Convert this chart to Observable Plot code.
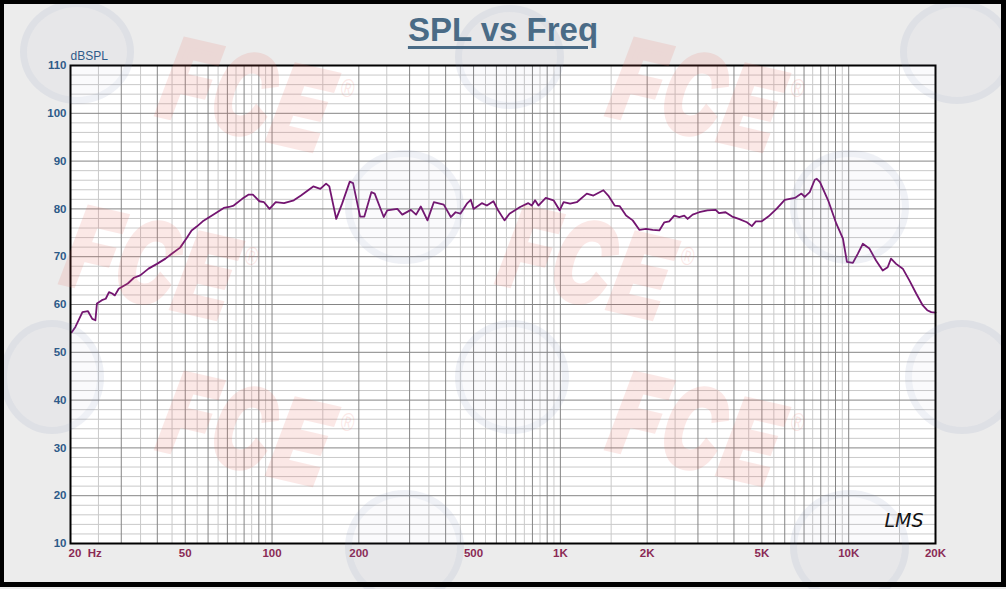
<!DOCTYPE html>
<html>
<head>
<meta charset="utf-8">
<script src="https://cdn.jsdelivr.net/npm/d3@7"></script>
<script src="https://cdn.jsdelivr.net/npm/@observablehq/plot@0.6"></script>
<style>
  body { margin: 0; background: #ffffff; }
  #wrap { position: relative; width: 1006px; height: 589px; background: #ececec; overflow: hidden;
          font-family: Arial, "Liberation Sans", sans-serif; }
  #chart { position: absolute; left: 0; top: 0; }
  #title { position: absolute; left: 0; top: 11px; width: 1006px; text-align: center;
           font: bold 33px Arial, "Liberation Sans", sans-serif; color: #4a6b86;
           text-decoration: underline; text-decoration-thickness: 3px; text-underline-offset: 5px; }
  .wm { position: absolute; font: italic bold 110px Arial, "Liberation Sans", sans-serif;
        color: #e8695e; -webkit-text-stroke: 9px #e8695e; opacity: 0.15;
        transform: rotate(13deg) scaleX(0.7); transform-origin: left top;
        letter-spacing: 8px; pointer-events: none; white-space: nowrap; line-height: 1; }
  .wm span { font-size: 26px; font-style: normal; font-weight: normal; -webkit-text-stroke: 0;
             vertical-align: 58px; margin-left: 4px; }
  .ring { position: absolute; border-radius: 50%; border: 7px solid rgba(120, 135, 175, 0.08);
          background: rgba(120, 135, 175, 0.04); pointer-events: none; }
  #border { position: absolute; left: 0; top: 0; width: 1006px; height: 587px; box-sizing: border-box;
            border-style: solid; border-color: #000; border-width: 4px 5px 5px 4px; pointer-events: none; }
</style>
</head>
<body>
<div id="wrap">
  <div id="chart"></div>
  <div class="ring" style="left:20px;top:0px;width:100px;height:90px;"></div>
  <div class="ring" style="left:455px;top:5px;width:95px;height:90px;"></div>
  <div class="ring" style="left:900px;top:0px;width:100px;height:90px;"></div>
  <div class="ring" style="left:345px;top:150px;width:105px;height:100px;"></div>
  <div class="ring" style="left:790px;top:150px;width:105px;height:100px;"></div>
  <div class="ring" style="left:0px;top:320px;width:90px;height:100px;"></div>
  <div class="ring" style="left:455px;top:320px;width:100px;height:100px;"></div>
  <div class="ring" style="left:905px;top:320px;width:100px;height:100px;"></div>
  <div class="ring" style="left:345px;top:490px;width:105px;height:100px;"></div>
  <div class="ring" style="left:790px;top:490px;width:105px;height:100px;"></div>
  <div class="wm" style="left:178px;top:22px;">FCE<span>®</span></div>
  <div class="wm" style="left:628px;top:22px;">FCE<span>®</span></div>
  <div class="wm" style="left:82px;top:190px;">FCE<span>®</span></div>
  <div class="wm" style="left:518px;top:190px;">FCE<span>®</span></div>
  <div class="wm" style="left:178px;top:356px;">FCE<span>®</span></div>
  <div class="wm" style="left:628px;top:356px;">FCE<span>®</span></div>
  <div id="title">SPL vs Freq</div>
  <div id="border"></div>
</div>
<script>
// ---- data ----
const freq = [20.2, 20.8, 22.0, 23.0, 23.8, 24.4, 24.7, 25.7, 26.5, 27.2, 27.9, 28.5, 29.4, 31.6, 33.2, 34.9, 37.3, 39.9,
  42.7, 44.9, 48.0, 50.6, 52.6, 54.8, 57.5, 61.9, 64.5, 68.0, 70.9, 73.6, 78.8, 83.0, 85.8, 90.4, 93.8, 98, 103, 110,
  119, 126, 139, 147, 154, 158, 167, 175, 186, 191, 202, 209, 221, 227, 244, 251, 272, 283, 303, 316, 328, 346, 364,
  394, 417, 433, 450, 474, 489, 500, 534, 556, 586, 608, 640, 666, 725, 774, 796, 817, 839, 890, 947, 994, 1026, 1081,
  1140, 1235, 1302, 1410, 1466, 1543, 1605, 1690, 1782, 1881, 1983, 2090, 2204, 2294, 2385, 2483, 2585, 2690, 2763,
  2876, 3031, 3236, 3457, 3548, 3740, 3942, 4155, 4435, 4615, 4764, 4994, 5263, 5619, 6000, 6505, 6856, 7040, 7327,
  7626, 7752, 7951, 8484, 9060, 9550, 9860, 10340, 10750, 11190, 11800, 12440, 13120, 13650, 14020, 14600, 15400,
  16250, 17140, 18070, 18720, 19330, 20000];
const spl = [54.2, 55.3, 58.4, 58.6, 57.0, 56.7, 60.2, 60.9, 61.2, 62.6, 62.3, 61.9, 63.3, 64.4, 65.6, 66.1, 67.5, 68.5,
  69.6, 70.6, 71.9, 73.9, 75.5, 76.3, 77.4, 78.6, 79.3, 80.2, 80.4, 80.7, 82.1, 83.0, 83.0, 81.6, 81.4, 80.0, 81.4, 81.2,
  81.8, 82.8, 84.7, 84.2, 85.3, 84.7, 77.9, 81.1, 85.7, 85.4, 78.4, 78.4, 83.5, 83.2, 78.3, 79.7, 80.0, 78.8, 79.8, 78.8,
  80.5, 77.6, 81.4, 80.9, 78.3, 79.3, 79.0, 81.1, 81.9, 80.0, 81.2, 80.7, 81.6, 79.7, 77.6, 79.0, 80.4, 81.2, 80.7, 81.8,
  80.7, 82.3, 81.8, 79.7, 81.4, 81.1, 81.4, 83.2, 82.8, 83.9, 82.8, 80.7, 80.6, 78.6, 77.6, 75.6, 75.8, 75.6, 75.5, 77.2,
  77.4, 78.6, 78.3, 78.6, 77.9, 78.8, 79.3, 79.7, 79.8, 79.1, 79.3, 78.4, 77.9, 77.2, 76.4, 77.4, 77.4, 78.4, 80.0, 81.9,
  82.3, 83.2, 82.5, 83.5, 86.1, 86.3, 85.6, 81.8, 76.9, 73.8, 68.9, 68.7, 70.6, 72.7, 71.7, 69.2, 67.1, 67.8, 69.6, 68.5,
  67.5, 65.0, 62.3, 59.8, 58.8, 58.4, 58.3];

const yTicks = [10, 20, 30, 40, 50, 60, 70, 80, 90, 100, 110];
const yMinor = [12, 14, 16, 18, 22, 24, 26, 28, 32, 34, 36, 38, 42, 44, 46, 48, 52, 54, 56, 58, 62, 64, 66, 68,
  72, 74, 76, 78, 82, 84, 86, 88, 92, 94, 96, 98, 102, 104, 106, 108];
const xTicks = [20, 50, 100, 200, 500, 1000, 2000, 5000, 10000, 20000];
const xTickLabels = ["20  Hz", "50", "100", "200", "500", "1K", "2K", "5K", "10K", "20K"];
const gridMajorX = [20, 30, 40, 50, 60, 70, 80, 90, 100, 200, 300, 400, 500, 600, 700, 800, 900, 1000,
  2000, 3000, 4000, 5000, 6000, 7000, 8000, 9000, 10000, 20000];
const gridMinorX = [25, 35, 45, 55, 65, 75, 85, 95, 150, 250, 350, 450, 550, 650, 750, 850, 950, 1500,
  2500, 3500, 4500, 5500, 6500, 7500, 8500, 9500, 15000];

const data = freq.map((f, i) => ({f, db: spl[i]}));
const xLab = xTicks.map((v, i) => ({v, t: xTickLabels[i]}));

const blue = "#2c5a88";
const maroon = "#8a2a55";

const chart = Plot.plot({
  width: 1006, height: 589,
  marginLeft: 70, marginRight: 71, marginTop: 65, marginBottom: 46,
  x: {type: "log", domain: [20, 20000], axis: null},
  y: {domain: [10, 110], axis: null},
  style: {background: "transparent", fontFamily: "Arial, 'Liberation Sans', sans-serif"},
  marks: [
    Plot.frame({fill: "white"}),
    Plot.ruleX(gridMinorX, {stroke: "#c9c9c9", strokeWidth: 1}),
    Plot.ruleY(yMinor, {stroke: "#c9c9c9", strokeWidth: 1}),
    Plot.ruleX(gridMajorX, {stroke: "#858585", strokeWidth: 1}),
    Plot.ruleY(yTicks, {stroke: "#858585", strokeWidth: 1}),
    Plot.line(data, {x: "f", y: "db", stroke: "#731570", strokeWidth: 1.8, curve: "linear"}),
    Plot.frame({stroke: "#000", strokeWidth: 2}),
    Plot.text(yTicks, {y: d => d, frameAnchor: "left", dx: -4, textAnchor: "end", lineAnchor: "middle",
      fill: blue, fontWeight: "bold", fontSize: 11.5}),
    Plot.text(["dBSPL"], {frameAnchor: "top-left", dy: -9, textAnchor: "start", lineAnchor: "middle",
      fill: blue, fontSize: 12}),
    Plot.text(xLab.slice(0, 1), {x: "v", text: "t", frameAnchor: "bottom", dy: 10, dx: -2, textAnchor: "start",
      lineAnchor: "middle", fill: maroon, fontWeight: "bold", fontSize: 11.5, xmlSpace: "preserve"}),
    Plot.text(xLab.slice(1), {x: "v", text: "t", frameAnchor: "bottom", dy: 10, textAnchor: "middle",
      lineAnchor: "middle", fill: maroon, fontWeight: "bold", fontSize: 11.5}),
    Plot.text(["LMS"], {frameAnchor: "bottom-right", dx: -12, dy: -17, textAnchor: "end", fill: "#111",
      fontSize: 19, fontStyle: "italic", fontFamily: "DejaVu Sans", fontWeight: 300})
  ]
});
document.getElementById("chart").appendChild(chart);
</script>
</body>
</html>
